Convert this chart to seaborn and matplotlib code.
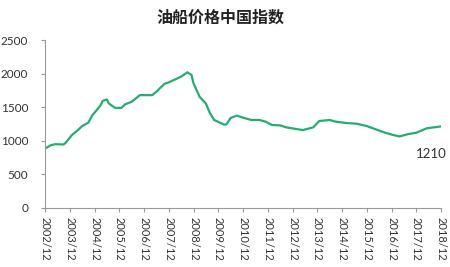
import matplotlib
matplotlib.use("Agg")
import matplotlib.pyplot as plt
import seaborn as sns
import pandas as pd

title = "油船价格中国指数"
dates = ["2002-12", "2003-03", "2003-05", "2003-09", "2003-10", "2004-01", "2004-04",
         "2004-06", "2004-09", "2004-11", "2005-01", "2005-03", "2005-04", "2005-06",
         "2005-07", "2005-10", "2006-01", "2006-03", "2006-06", "2006-10", "2007-04",
         "2007-06", "2007-10", "2007-12", "2008-06", "2008-09", "2008-11", "2008-12",
         "2009-03", "2009-06", "2009-08", "2009-10", "2010-03", "2010-04", "2010-06",
         "2010-09", "2010-12", "2011-04", "2011-08", "2011-11", "2012-02", "2012-06",
         "2012-09", "2013-05", "2013-10", "2014-01", "2014-06", "2014-09", "2015-02",
         "2015-07", "2015-12", "2016-04", "2016-09", "2017-01", "2017-04", "2017-08",
         "2017-12", "2018-05", "2018-12"]
values = [885, 935, 950, 945, 970, 1085, 1160,
          1220, 1270, 1385, 1455, 1530, 1595, 1615,
          1555, 1490, 1490, 1545, 1580, 1680, 1680,
          1730, 1850, 1870, 1955, 2020, 1980, 1855,
          1655, 1555, 1410, 1310, 1240, 1245, 1340,
          1375, 1345, 1310, 1310, 1285, 1235, 1230,
          1200, 1160, 1200, 1295, 1310, 1285, 1265,
          1255, 1220, 1175, 1120, 1085, 1065, 1100,
          1120, 1185, 1215]
tick_labels = [f"{y}/12" for y in range(2002, 2019)]
yticks = [0, 500, 1000, 1500, 2000, 2500]
last_label = "1210"

df = pd.DataFrame({"date": pd.to_datetime(dates), "value": values})

sns.set_style("white")
plt.rcParams["font.family"] = ["Lato", "Noto Sans CJK SC", "DejaVu Sans"]

fig = plt.figure(figsize=(4.5, 2.67), dpi=100)
ax = fig.add_axes([0.1, 0.221, 0.88, 0.629])
sns.lineplot(data=df, x="date", y="value", ax=ax, color="#26AC70", linewidth=1.6)

ax.set_ylim(0, 2500)
ax.set_yticks(yticks)
ax.set_xlim(pd.Timestamp("2002-12-01"), pd.Timestamp("2018-12-01"))
tick_pos = [pd.Timestamp(f"{y}-12-01") for y in range(2002, 2019)]
ax.set_xticks(tick_pos)
ax.set_xticklabels(tick_labels, rotation=270, fontsize=8, color="#333333")
ax.tick_params(axis="y", labelsize=8.5, colors="#333333", length=3, color="#999999",
               direction="out", left=True, pad=9)
ax.tick_params(axis="x", length=3, color="#999999", direction="out", bottom=True)
ax.set_xlabel("")
ax.set_ylabel("")
for s in ["top", "right"]:
    ax.spines[s].set_visible(False)
for s in ["left", "bottom"]:
    ax.spines[s].set_color("#999999")
    ax.spines[s].set_linewidth(0.8)

ax.annotate(last_label, xy=(df["date"].iloc[-1], df["value"].iloc[-1]),
            xytext=(-7, -20), textcoords="offset points", ha="center", va="center",
            fontsize=9.5, color="#333333")

fig.text(0.49, 0.935, title, ha="center", va="center", fontsize=11.5, fontweight="bold",
         family=["Noto Sans CJK SC", "DejaVu Sans"], color="#222222")

fig.savefig("out.png", dpi=100, facecolor="white")
